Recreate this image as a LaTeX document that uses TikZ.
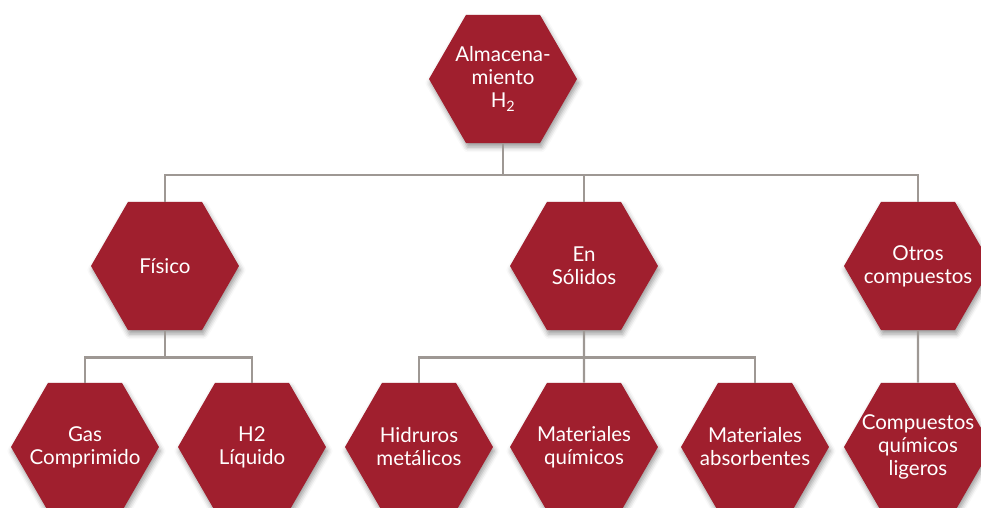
\documentclass[tikz,border=0pt]{standalone}
\usepackage{fontspec}
\setmainfont{Lato}
\usetikzlibrary{shapes.geometric,shadows.blur}
\definecolor{hex}{RGB}{160, 31, 46}
\definecolor{lin}{RGB}{158, 152, 148}
\tikzset{
  hexa/.style={regular polygon, regular polygon sides=6, minimum size=148pt,
    inner sep=-20pt, fill=hex, text=white, align=center,
    font=\fontsize{20.5}{23}\selectfont,
    blur shadow={shadow xshift=1.5pt, shadow yshift=-4pt,
      shadow blur radius=5pt, shadow opacity=40}},
  link/.style={color=lin, line width=2.4pt}
}
\begin{document}
\begin{tikzpicture}[x=1pt, y=-1pt]
  \useasboundingbox (0,0) rectangle (981,507);
  \clip (0,0) rectangle (981,507);

  % raiz
  \node[hexa] (alm) at (503, 79) {Almacena-\\miento\\H\textsubscript{2}};

  % segundo nivel
  \node[hexa] (fis) at (165, 266) {Físico};
  \node[hexa] (sol) at (584, 266) {En\\Sólidos};
  \node[hexa] (otr) at (918, 266) {Otros\\compuestos};

  % tercer nivel
  \node[hexa] (gas) at (85, 447) {Gas\\Comprimido};
  \node[hexa] (liq) at (252, 447) {H2\\Líquido};
  \node[hexa] (hid) at (419, 447) {Hidruros\\metálicos};
  \node[hexa] (mqu) at (584, 447) {Materiales\\químicos};
  \node[hexa] (mab) at (755, 447) {Materiales\\absorbentes};
  \node[hexa] (cqu) at (918, 447) {Compuestos\\químicos\\ligeros};

  \draw[link] (alm.south) -- ++(0, 32) -| (fis.north);
  \draw[link] (alm.south) -- ++(0, 32) -| (sol.north);
  \draw[link] (alm.south) -- ++(0, 32) -| (otr.north);

  \draw[link] (fis.south) -- ++(0, 27) -| (gas.north);
  \draw[link] (fis.south) -- ++(0, 27) -| (liq.north);

  \draw[link] (sol.south) -- ++(0, 27) -| (hid.north);
  \draw[link] (sol.south) -- (mqu.north);
  \draw[link] (sol.south) -- ++(0, 27) -| (mab.north);

  \draw[link] (otr.south) -- (cqu.north);
\end{tikzpicture}
\end{document}
